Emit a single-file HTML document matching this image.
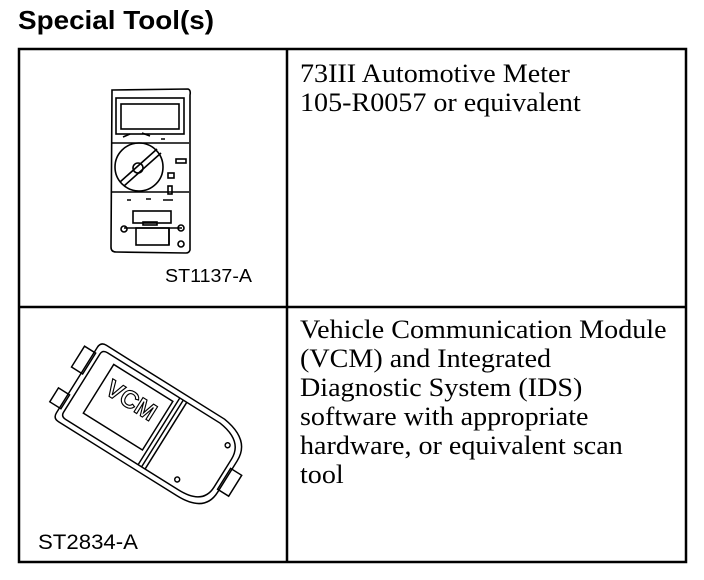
<!DOCTYPE html>
<html><head><style>
html,body{margin:0;padding:0;background:#fff;}
body{width:704px;height:580px;position:relative;overflow:hidden;}
.t{position:absolute;font-family:"Liberation Serif",serif;font-size:26px;line-height:29px;color:#000;white-space:nowrap;transform:scaleX(1.08);transform-origin:0 0;}
</style></head><body>
<svg width="704" height="580" style="position:absolute;left:0;top:0" xmlns="http://www.w3.org/2000/svg">
<text x="18" y="29" font-family="Liberation Sans, sans-serif" font-weight="bold" font-size="26" textLength="196" lengthAdjust="spacingAndGlyphs">Special Tool(s)</text>
<g stroke="#000" stroke-width="2.5" fill="none">
<rect x="19" y="49" width="667" height="513"/>
<line x1="287" y1="49" x2="287" y2="562"/>
<line x1="19" y1="307" x2="686" y2="307"/>
</g>
<!-- meter -->
<g stroke="#000" stroke-width="1.6" fill="none">
<path d="M112 90 L188 89 Q191 90 190 95 L190 250 Q189 253 186 253 L116 252 Q111 252 111 247 Z"/>
<rect x="116" y="98" width="68" height="36"/>
<rect x="121" y="104" width="58" height="25"/>
<line x1="112" y1="143" x2="189" y2="143"/>
<line x1="112" y1="192" x2="189" y2="192"/>
<circle cx="139" cy="167" r="24"/>
<line x1="120" y1="182" x2="157" y2="149"/>
<line x1="124" y1="186" x2="161" y2="153"/>
<circle cx="138" cy="168" r="5"/>
<rect x="176" y="159" width="10" height="4"/>
<rect x="168" y="173" width="6" height="5"/>
<rect x="168" y="186" width="4" height="8"/>
<rect x="133" y="211" width="38" height="12"/>
<rect x="143" y="222" width="14" height="3"/>
<rect x="136" y="228" width="33" height="17"/>
<line x1="124" y1="228" x2="182" y2="228"/>
<line x1="169" y1="228" x2="169" y2="245"/>
<circle cx="124" cy="229" r="3"/><circle cx="181" cy="228" r="3"/><circle cx="181" cy="244" r="3"/>
<path d="M123 137 L130 134 M142 133 L150 136 M161 139 L165 139 M127 200 L131 200 M146 199 L151 199 M163 200 L173 200"/>
</g>
<text x="165" y="282" font-family="Liberation Sans, sans-serif" font-size="18" textLength="87" lengthAdjust="spacingAndGlyphs">ST1137-A</text>
<!-- VCM -->
<g transform="translate(152,427) rotate(32) scale(0.82)" stroke="#000" stroke-width="1.8" fill="none">
<path d="M-100 -55 L70 -55 Q110 -50 110 -20 L110 25 Q110 55 70 55 L-100 55 Q-108 55 -108 47 L-108 -47 Q-108 -55 -100 -55 Z"/>
<path d="M-94 -48 L68 -48 Q103 -44 103 -18 L103 22 Q103 48 68 48 L-94 48 Q-101 48 -101 42 L-101 -42 Q-101 -48 -94 -48 Z"/>
<rect x="-122" y="-40" width="16" height="30"/>
<rect x="-122" y="20" width="16" height="20"/>
<rect x="108" y="-8" width="16" height="30"/>
<rect x="-80" y="-40" width="85" height="70"/>
<line x1="10" y1="-48" x2="10" y2="48"/>
<line x1="15" y1="-48" x2="15" y2="48"/>
<line x1="20" y1="-48" x2="20" y2="48"/>
<circle cx="90" cy="-30" r="3"/><circle cx="60" cy="38" r="3"/>
<text x="-72" y="-4" font-family="Liberation Sans, sans-serif" font-weight="bold" font-size="30" fill="#fff" stroke="#000" stroke-width="1.4">VCM</text>
</g>
<text x="38" y="549" font-family="Liberation Sans, sans-serif" font-size="21" textLength="100" lengthAdjust="spacingAndGlyphs">ST2834-A</text>
</svg>
<div class="t" style="left:300px;top:59px">73III Automotive Meter<br>105-R0057 or equivalent</div>
<div class="t" style="left:300px;top:315px">Vehicle Communication Module<br>(VCM) and Integrated<br>Diagnostic System (IDS)<br>software with appropriate<br>hardware, or equivalent scan<br>tool</div>
</body></html>
